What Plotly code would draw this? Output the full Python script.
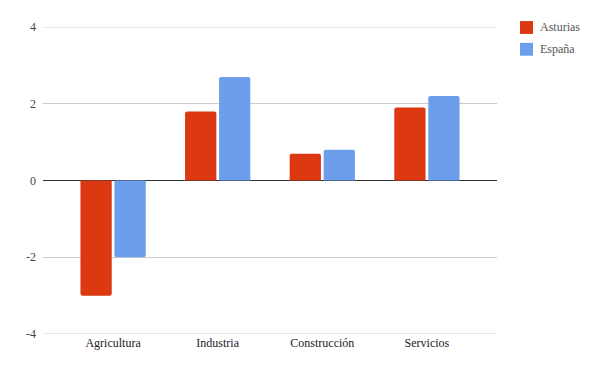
import plotly.graph_objects as go

categories = ["Agricultura", "Industria", "Construcción", "Servicios"]
asturias = [-3.0, 1.8, 0.7, 1.9]
espana = [-2.0, 2.7, 0.8, 2.2]
series_names = ["Asturias", "España"]
series_colors = ["#dc3912", "#6d9eeb"]
y_ticks = [-4, -2, 0, 2, 4]
y_tick_labels = [str(v) for v in y_ticks]

font_family = "Liberation Serif"

# plot area in figure pixels
L, R, T, B = 35, 111, 16, 45
W, H = 600, 371
PW, PH = W - L - R, H - T - B


def px_x(fx):
    return (fx - L) / PW


def px_y(fy):
    return (H - B - fy) / PH


fig = go.Figure()
for name, vals, col in zip(series_names, [asturias, espana], series_colors):
    fig.add_trace(go.Bar(x=categories, y=vals, name=name,
                         marker=dict(color=col, cornerradius=2, line=dict(width=0))))

# edge gridlines (plotly omits gridlines at the exact range ends)
for v in (y_ticks[0], y_ticks[-1]):
    fig.add_shape(type="line", xref="paper", yref="y", x0=0, x1=1, y0=v, y1=v,
                  line=dict(color="#cccccc", width=1), layer="below")

# custom legend
for i, (name, col) in enumerate(zip(series_names, series_colors)):
    top = 10 + 22 * i
    fig.add_shape(type="rect", xref="paper", yref="paper",
                  x0=px_x(512), x1=px_x(525), y0=px_y(top), y1=px_y(top + 13),
                  fillcolor=col, line=dict(width=0))
    fig.add_annotation(xref="paper", yref="paper", x=px_x(530), y=px_y(top + 6.5),
                       text=name, showarrow=False, xanchor="left", yanchor="middle",
                       font=dict(family=font_family, size=12, color="#555"))

fig.update_layout(
    width=W, height=H,
    margin=dict(l=L, r=R, t=T, b=B),
    paper_bgcolor="white", plot_bgcolor="white",
    barmode="group", bargap=0.35, bargroupgap=0.08,
    font=dict(family=font_family, size=12, color="#444"),
    showlegend=False,
)
fig.update_xaxes(range=[-0.67, 3.67], showgrid=False, showline=False, ticks="",
                 tickfont=dict(family=font_family, size=12, color="#222"))
fig.update_yaxes(range=[-4, 4], tickvals=y_ticks, ticktext=y_tick_labels,
                 showgrid=True, gridcolor="#cccccc",
                 gridwidth=1, zeroline=True, zerolinecolor="#333333", zerolinewidth=1,
                 showline=False, ticks="", ticklabelstandoff=6,
                 tickfont=dict(family=font_family, size=12, color="#444"))

fig.write_html("out.html")
